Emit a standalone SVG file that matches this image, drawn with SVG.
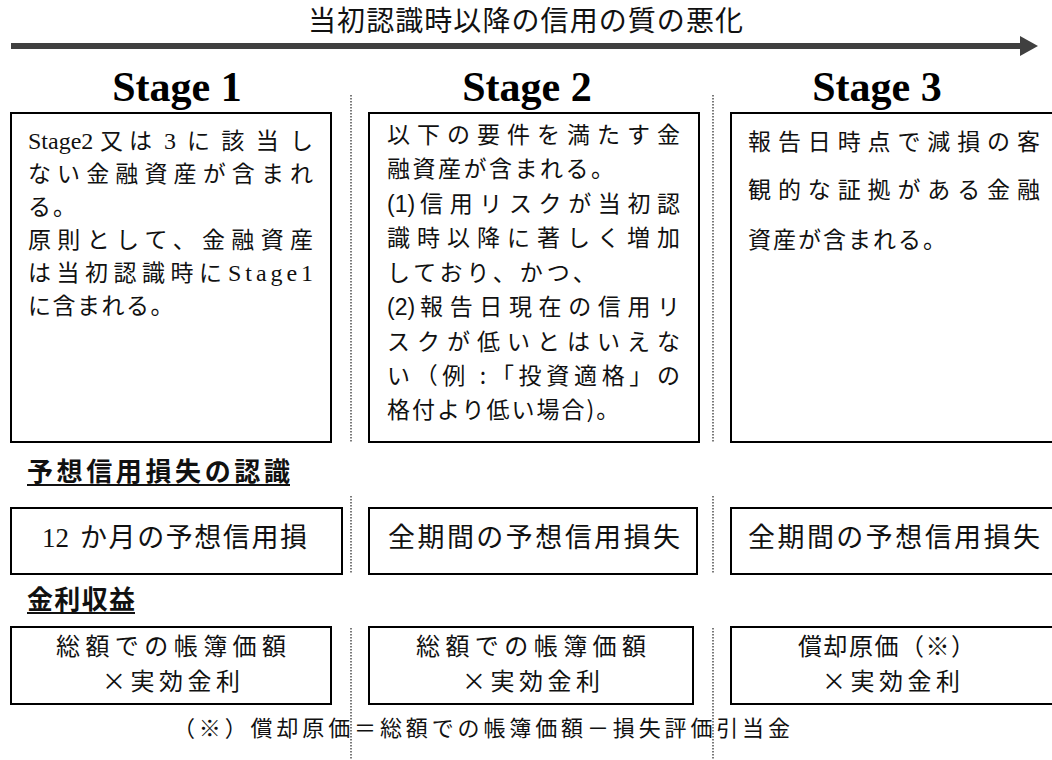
<svg xmlns="http://www.w3.org/2000/svg" width="1052" height="760" viewBox="0 0 1052 760">
<style>
.box{fill:#fff;stroke:#000;stroke-width:2}
.sep{stroke:#333;stroke-width:1.3;stroke-dasharray:1.5 1.5;fill:none}
.jp{font-family:"Noto Sans CJK JP","Noto Sans",sans-serif;fill:#111}
.t{font-family:"Noto Sans CJK JP",sans-serif;font-size:23px;fill:#111}
.lat{font-family:"Liberation Serif","Noto Sans CJK JP",serif;font-size:24px;fill:#111}
.ar{font-family:"Liberation Sans","Noto Sans CJK JP",sans-serif;font-size:23px;fill:#111}
.stage{font-family:"Liberation Serif",serif;font-weight:bold;font-size:42px;fill:#000;text-anchor:middle}
.cell{font-family:"Noto Sans CJK JP",sans-serif;font-size:27px;fill:#111}
.cell2{font-family:"Noto Sans CJK JP",sans-serif;font-size:24px;fill:#111}
.num{font-family:"Liberation Serif",serif;font-size:27px;fill:#111}
.head{font-family:"Noto Sans CJK JP",sans-serif;font-size:26px;font-weight:bold;fill:#111}
</style>
<defs>
<marker id="ah" viewBox="0 0 18 20" refX="0" refY="10" markerWidth="18" markerHeight="20" markerUnits="userSpaceOnUse" orient="auto">
<path d="M0,0 L18,10 L0,20 Z" fill="#404040"/>
</marker>
</defs>
<rect width="1052" height="760" fill="#fff"/>

<text id="title" class="jp" x="308" y="31" font-size="28" textLength="435" lengthAdjust="spacing">当初認識時以降の信用の質の悪化</text>

<g id="connectors">
<line x1="11" y1="46" x2="1020" y2="46" stroke="#404040" stroke-width="6" marker-end="url(#ah)"/>
</g>

<g id="separators">
<line class="sep" x1="351" y1="95" x2="351" y2="442"/>
<line class="sep" x1="713" y1="95" x2="713" y2="442"/>
<line class="sep" x1="351" y1="496" x2="351" y2="574"/>
<line class="sep" x1="713" y1="496" x2="713" y2="574"/>
<line class="sep" x1="351" y1="628" x2="351" y2="760"/>
<line class="sep" x1="713" y1="628" x2="713" y2="760"/>
</g>

<g id="stage1">
<text class="stage" x="177" y="101">Stage 1</text>
<rect class="box" x="11" y="113" width="320" height="329"/>
<text class="lat" x="28" y="149">Stage2</text>
<text class="t" x="100" y="149" textLength="52" lengthAdjust="spacing">又は</text>
<text class="lat" x="164" y="149">3</text>
<text class="t" x="187" y="149" textLength="126" lengthAdjust="spacing">に該当し</text>
<text class="t" x="28" y="182" textLength="285" lengthAdjust="spacing">ない金融資産が含まれ</text>
<text class="t" x="28" y="215" letter-spacing="2">る。</text>
<text class="t" x="28" y="248" textLength="285" lengthAdjust="spacing">原則として、金融資産</text>
<text class="t" x="28" y="281" textLength="194" lengthAdjust="spacing">は当初認識時に</text>
<text class="lat" x="228" y="281" textLength="85" lengthAdjust="spacing">Stage1</text>
<text class="t" x="28" y="314" letter-spacing="1.5">に含まれる。</text>
</g>

<g id="stage2">
<text class="stage" x="527" y="101">Stage 2</text>
<rect class="box" x="369" y="113" width="330" height="329"/>
<text class="t" x="387" y="143" textLength="293" lengthAdjust="spacing">以下の要件を満たす金</text>
<text class="t" x="387" y="177" letter-spacing="2.5">融資産が含まれる。</text>
<text class="ar" x="387" y="212">(1)</text>
<text class="t" x="420" y="212" textLength="260" lengthAdjust="spacing">信用リスクが当初認</text>
<text class="t" x="387" y="246" textLength="293" lengthAdjust="spacing">識時以降に著しく増加</text>
<text class="t" x="387" y="281" letter-spacing="4">しており、かつ、</text>
<text class="ar" x="387" y="315">(2)</text>
<text class="t" x="420" y="315" textLength="260" lengthAdjust="spacing">報告日現在の信用リ</text>
<text class="t" x="387" y="350" textLength="293" lengthAdjust="spacing">スクが低いとはいえな</text>
<text class="t" x="387" y="384" textLength="293" lengthAdjust="spacing">い（例 :「投資適格」の</text>
<text class="t" x="387" y="418" letter-spacing="2">格付より低い場合)。</text>
</g>

<g id="stage3">
<text class="stage" x="877" y="101">Stage 3</text>
<rect class="box" x="731" y="113" width="330" height="329"/>
<text class="t" x="748" y="150" textLength="292" lengthAdjust="spacing">報告日時点で減損の客</text>
<text class="t" x="748" y="198" textLength="292" lengthAdjust="spacing">観的な証拠がある金融</text>
<text class="t" x="748" y="248" letter-spacing="2">資産が含まれる。</text>
</g>

<g id="heading-ecl">
<text class="head" x="27" y="481" textLength="263" lengthAdjust="spacing">予想信用損失の認識</text>
<line x1="27" y1="485" x2="290" y2="485" stroke="#111" stroke-width="2"/>
</g>

<g id="ecl1">
<rect class="box" x="11" y="508" width="331" height="66"/>
<text class="num" x="42" y="547">12</text>
<text class="cell" x="80" y="547" textLength="227" lengthAdjust="spacing">か月の予想信用損</text>
</g>
<g id="ecl2">
<rect class="box" x="369" y="508" width="328" height="66"/>
<text class="cell" x="388" y="547" textLength="292" lengthAdjust="spacing">全期間の予想信用損失</text>
</g>
<g id="ecl3">
<rect class="box" x="731" y="508" width="330" height="66"/>
<text class="cell" x="748" y="547" textLength="292" lengthAdjust="spacing">全期間の予想信用損失</text>
</g>

<g id="heading-interest">
<text class="head" x="27" y="609" textLength="108" lengthAdjust="spacing">金利収益</text>
<line x1="27" y1="613" x2="135" y2="613" stroke="#111" stroke-width="2"/>
</g>

<g id="int1">
<rect class="box" x="11" y="627" width="320" height="77"/>
<text class="cell2" x="56" y="655" textLength="230" lengthAdjust="spacing">総額での帳簿価額</text>
<text class="cell2" x="102" y="690" textLength="138" lengthAdjust="spacing">×実効金利</text>
</g>
<g id="int2">
<rect class="box" x="369" y="627" width="324" height="77"/>
<text class="cell2" x="416" y="655" textLength="230" lengthAdjust="spacing">総額での帳簿価額</text>
<text class="cell2" x="462" y="690" textLength="138" lengthAdjust="spacing">×実効金利</text>
</g>
<g id="int3">
<rect class="box" x="731" y="627" width="330" height="77"/>
<text class="cell2" x="798" y="655" textLength="177" lengthAdjust="spacing">償却原価（※）</text>
<text class="cell2" x="822" y="690" textLength="138" lengthAdjust="spacing">×実効金利</text>
</g>

<text id="footnote" class="jp" x="173" y="736" font-size="22" textLength="617" lengthAdjust="spacing">（※）償却原価＝総額での帳簿価額－損失評価引当金</text>
</svg>
